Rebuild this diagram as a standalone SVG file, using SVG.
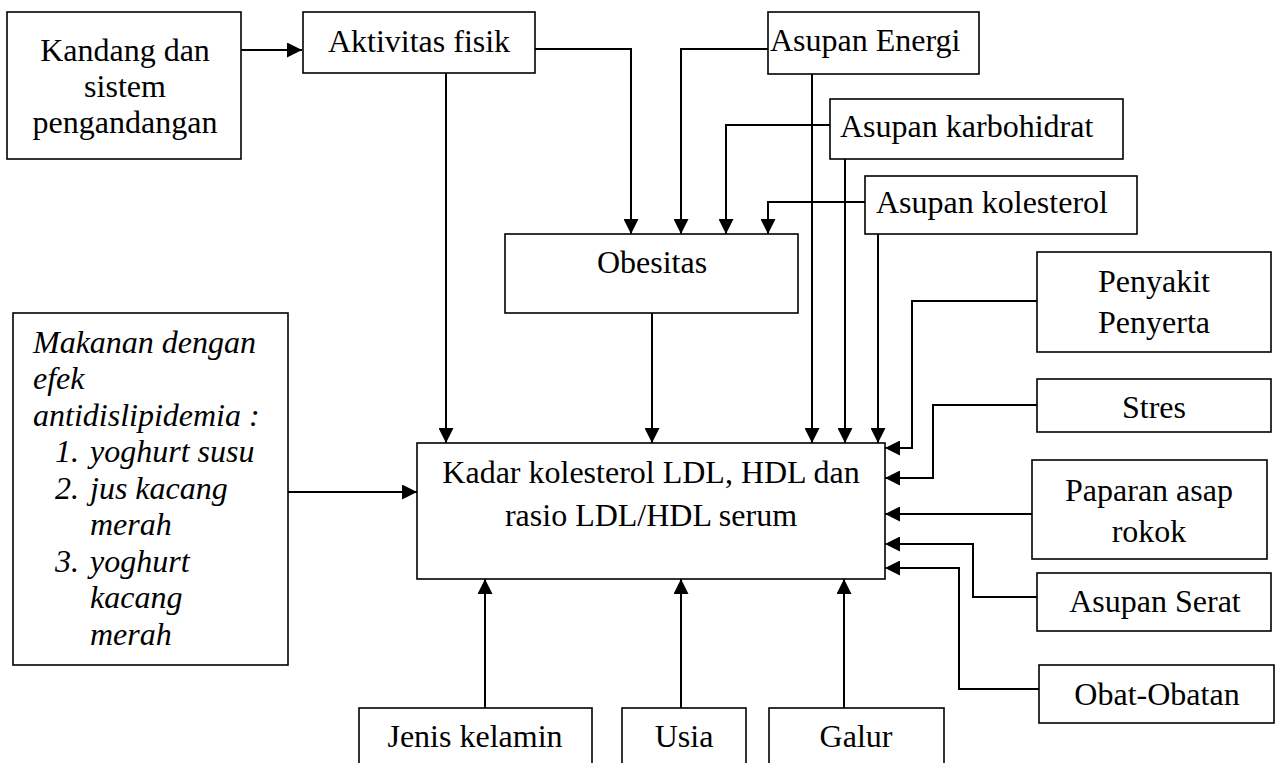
<svg xmlns="http://www.w3.org/2000/svg" width="1281" height="763" viewBox="0 0 1281 763">
<style>
.box{fill:#fff;stroke:#000;stroke-width:1.6}
.t{font-family:"Liberation Serif","Times New Roman",serif;font-size:32px;fill:#000}
.c{text-anchor:middle}
.i{font-style:italic}
.ln{fill:none;stroke:#000;stroke-width:2}
</style>
<defs>
<marker id="ah" markerUnits="userSpaceOnUse" markerWidth="15" markerHeight="15" refX="14" refY="7" orient="auto" viewBox="0 0 14 14">
<path d="M0,0 L14,7 L0,14 Z" fill="#000"/>
</marker>
</defs>
<rect width="1281" height="763" fill="#fff"/>
<g id="connectors">
<path class="ln" d="M241,50 H302" marker-end="url(#ah)"/>
<path class="ln" d="M535,49 H631 V234" marker-end="url(#ah)"/>
<path class="ln" d="M768,49 H681 V234" marker-end="url(#ah)"/>
<path class="ln" d="M830,125 H726 V234" marker-end="url(#ah)"/>
<path class="ln" d="M865,202 H768 V234" marker-end="url(#ah)"/>
<path class="ln" d="M446,73 V443" marker-end="url(#ah)"/>
<path class="ln" d="M652,313 V443" marker-end="url(#ah)"/>
<path class="ln" d="M812,74 V443" marker-end="url(#ah)"/>
<path class="ln" d="M845,159 V443" marker-end="url(#ah)"/>
<path class="ln" d="M878,234 V443" marker-end="url(#ah)"/>
<path class="ln" d="M1037,301 H912 V448 H885" marker-end="url(#ah)"/>
<path class="ln" d="M1037,405 H933 V478 H885" marker-end="url(#ah)"/>
<path class="ln" d="M1032,514 H885" marker-end="url(#ah)"/>
<path class="ln" d="M1037,597 H973 V544 H885" marker-end="url(#ah)"/>
<path class="ln" d="M1039,689 H959 V568 H885" marker-end="url(#ah)"/>
<path class="ln" d="M288,492 H417" marker-end="url(#ah)"/>
<path class="ln" d="M485,708 V579" marker-end="url(#ah)"/>
<path class="ln" d="M681,708 V579" marker-end="url(#ah)"/>
<path class="ln" d="M844,708 V579" marker-end="url(#ah)"/>
</g>
<g id="kandang">
<rect class="box" x="7" y="12" width="234" height="147"/>
<text class="t c" x="125" y="61">Kandang dan</text>
<text class="t c" x="125" y="97">sistem</text>
<text class="t c" x="125" y="133">pengandangan</text>
</g>
<g id="aktivitas">
<rect class="box" x="303" y="12" width="232" height="61"/>
<text class="t c" x="419" y="52">Aktivitas fisik</text>
</g>
<g id="energi">
<rect class="box" x="768" y="12" width="211" height="62"/>
<text class="t" x="770" y="51">Asupan Energi</text>
</g>
<g id="karbohidrat">
<rect class="box" x="830" y="99" width="293" height="60"/>
<text class="t" x="840" y="137">Asupan karbohidrat</text>
</g>
<g id="kolesterol">
<rect class="box" x="865" y="176" width="272" height="58"/>
<text class="t" x="876" y="213">Asupan kolesterol</text>
</g>
<g id="obesitas">
<rect class="box" x="505" y="234" width="293" height="79"/>
<text class="t c" x="652" y="273">Obesitas</text>
</g>
<g id="makanan">
<rect class="box" x="13" y="313" width="275" height="352"/>
<text class="t i" x="33" y="353">Makanan dengan</text>
<text class="t i" x="33" y="389">efek</text>
<text class="t i" x="33" y="426">antidislipidemia :</text>
<text class="t i" x="55" y="462">1.</text>
<text class="t i" x="90" y="462">yoghurt susu</text>
<text class="t i" x="55" y="499">2.</text>
<text class="t i" x="90" y="499">jus kacang</text>
<text class="t i" x="90" y="535">merah</text>
<text class="t i" x="55" y="572">3.</text>
<text class="t i" x="90" y="572">yoghurt</text>
<text class="t i" x="90" y="608">kacang</text>
<text class="t i" x="90" y="645">merah</text>
</g>
<g id="kadar">
<rect class="box" x="417" y="443" width="468" height="136"/>
<text class="t c" x="651" y="483">Kadar kolesterol LDL, HDL dan</text>
<text class="t c" x="651" y="526">rasio LDL/HDL serum</text>
</g>
<g id="penyakit">
<rect class="box" x="1037" y="252" width="234" height="100"/>
<text class="t c" x="1154" y="292">Penyakit</text>
<text class="t c" x="1154" y="333">Penyerta</text>
</g>
<g id="stres">
<rect class="box" x="1037" y="379" width="234" height="53"/>
<text class="t c" x="1154" y="418">Stres</text>
</g>
<g id="paparan">
<rect class="box" x="1032" y="460" width="235" height="99"/>
<text class="t c" x="1149" y="501">Paparan asap</text>
<text class="t c" x="1149" y="542">rokok</text>
</g>
<g id="serat">
<rect class="box" x="1037" y="573" width="234" height="58"/>
<text class="t c" x="1155" y="612">Asupan Serat</text>
</g>
<g id="obat">
<rect class="box" x="1039" y="665" width="235" height="58"/>
<text class="t c" x="1157" y="705">Obat-Obatan</text>
</g>
<g id="jenis">
<rect class="box" x="359" y="708" width="233" height="70"/>
<text class="t c" x="475" y="747">Jenis kelamin</text>
</g>
<g id="usia">
<rect class="box" x="622" y="708" width="124" height="70"/>
<text class="t c" x="684" y="747">Usia</text>
</g>
<g id="galur">
<rect class="box" x="769" y="708" width="175" height="70"/>
<text class="t c" x="856" y="747">Galur</text>
</g>
</svg>
